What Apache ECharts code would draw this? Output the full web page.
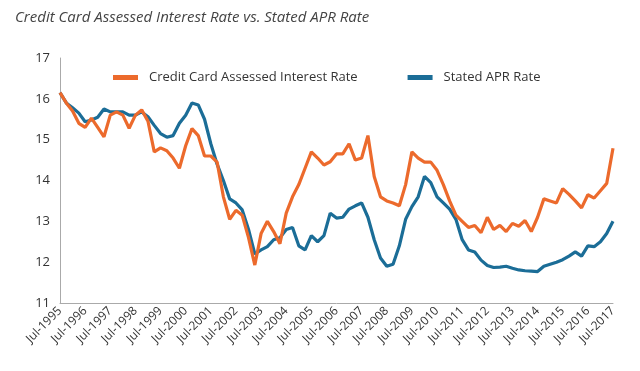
<!DOCTYPE html>
<html><head><meta charset="utf-8">
<script src="https://cdn.jsdelivr.net/npm/echarts@6/dist/echarts.min.js"></script>
<style>html,body{margin:0;padding:0;background:#fff}#c{width:640px;height:371px}</style>
</head><body><div id="c"></div>
<script>
const months = ["Jul","Oct","Jan","Apr"];
const startYear = 1995;
const nPoints = 89;
const categories = [];
for (let i = 0; i < nPoints; i++) {
  const m = months[i % 4];
  const y = startYear + Math.floor((i + 2) / 4);
  categories.push(m + "-" + y);
}
const assessedRate = [
16.15,15.9,15.7,15.4,15.3,15.53,15.3,15.07,15.6,15.68,
15.6,15.28,15.6,15.73,15.45,14.7,14.8,14.73,14.55,14.3,
14.85,15.27,15.1,14.6,14.6,14.45,13.6,13.05,13.27,13.15,
12.6,11.93,12.7,13.0,12.75,12.45,13.2,13.6,13.9,14.3,
14.7,14.55,14.38,14.46,14.65,14.65,14.9,14.5,14.55,15.1,
14.1,13.6,13.5,13.45,13.38,13.9,14.7,14.55,14.45,14.45,
14.25,13.9,13.5,13.15,13.0,12.85,12.9,12.72,13.1,12.8,
12.9,12.75,12.95,12.88,13.02,12.75,13.1,13.55,13.5,13.45,
13.8,13.66,13.5,13.33,13.65,13.57,13.75,13.93,14.79
];
const statedAPR = [
16.15,15.9,15.78,15.65,15.44,15.48,15.55,15.75,15.68,15.68,
15.68,15.6,15.6,15.68,15.56,15.35,15.15,15.06,15.1,15.4,
15.6,15.9,15.85,15.5,14.9,14.4,14.0,13.55,13.45,13.28,
12.8,12.2,12.3,12.38,12.55,12.6,12.8,12.85,12.4,12.3,
12.65,12.5,12.65,13.2,13.08,13.1,13.3,13.38,13.45,13.1,
12.55,12.1,11.9,11.95,12.4,13.05,13.36,13.6,14.1,13.95,
13.6,13.45,13.3,13.05,12.55,12.3,12.25,12.05,11.92,11.87,
11.88,11.9,11.85,11.81,11.79,11.78,11.77,11.9,11.95,12.0,
12.06,12.15,12.25,12.15,12.4,12.38,12.5,12.7,13.0
];
const yTicks = [11,12,13,14,15,16,17];
const fontFam = "'Open Sans', sans-serif";
const chart = echarts.init(document.getElementById('c'));
chart.setOption({
  animation:false,
  backgroundColor:'#fff',
  title:{text:'Credit Card Assessed Interest Rate vs. Stated APR Rate',left:10,top:5,
    textStyle:{fontFamily:fontFam,fontStyle:'italic',fontWeight:'normal',fontSize:15,color:'#444'}},
  legend:{left:108,top:66,itemWidth:25,itemHeight:5,itemGap:50,icon:'rect',
    textStyle:{fontFamily:fontFam,fontSize:13,color:'#333',padding:[0,0,0,6]},
    data:['Credit Card Assessed Interest Rate','Stated APR Rate']},
  grid:{left:60,right:27,top:58,bottom:68,containLabel:false},
  xAxis:{type:'category',data:categories,boundaryGap:false,
    axisLine:{lineStyle:{color:'#aaa',width:1}},axisTick:{show:false},
    axisLabel:{interval:3,rotate:45,fontFamily:fontFam,fontSize:12,color:'#333',margin:6}},
  yAxis:{type:'value',min:yTicks[0],max:yTicks[yTicks.length-1],interval:1,
    axisLine:{show:true,lineStyle:{color:'#aaa',width:1}},axisTick:{show:false},splitLine:{show:false},
    axisLabel:{fontFamily:fontFam,fontSize:13,color:'#333',margin:10}},
  series:[
    {name:'Credit Card Assessed Interest Rate',type:'line',data:assessedRate,symbol:'none',
      lineStyle:{color:'#EC6A2C',width:3.2},itemStyle:{color:'#EC6A2C'},z:3},
    {name:'Stated APR Rate',type:'line',data:statedAPR,symbol:'none',
      lineStyle:{color:'#1B6D97',width:3.2},itemStyle:{color:'#1B6D97'},z:2}
  ]
});
</script></body></html>
